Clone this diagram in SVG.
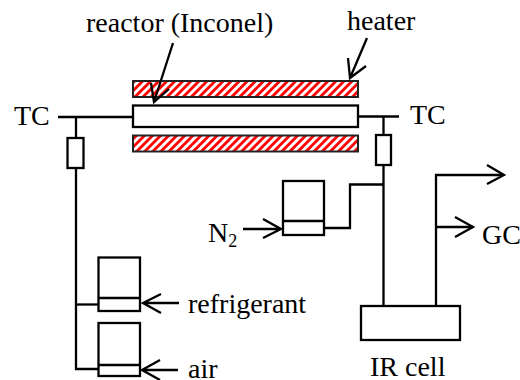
<svg xmlns="http://www.w3.org/2000/svg" width="520" height="380" viewBox="0 0 520 380">
<style>
.l{fill:none;stroke:#000;stroke-width:2.3}
.b{fill:#fff;stroke:#000;stroke-width:2.3}
.h{fill:url(#hatch);stroke:#222;stroke-width:2}
text{font-family:"Liberation Serif","Times New Roman",serif;font-size:28px;fill:#000}
</style>
<defs>
<pattern id="hatch" width="5.700" height="5.700" patternUnits="userSpaceOnUse" patternTransform="rotate(45)">
<rect width="5.700" height="5.700" fill="#f00"/>
<rect width="2.900" height="5.700" fill="#fff"/>
</pattern>
</defs>
<g id="heater-top"><rect class="h" x="133" y="81" width="225" height="16"/></g>
<g id="heater-bottom"><rect class="h" x="133" y="135.500" width="225" height="16"/></g>
<g id="reactor"><rect class="b" x="133" y="105.500" width="225" height="21.500"/></g>
<g id="valve-left"><rect class="b" x="67.500" y="138" width="16" height="30"/></g>
<g id="valve-right"><rect class="b" x="376" y="135" width="15" height="30"/></g>
<g id="mfc-n2"><rect class="b" x="283" y="181" width="41" height="54"/><path class="l" d="M283 221H324"/></g>
<g id="mfc-refrigerant"><rect class="b" x="98.500" y="257.500" width="41.500" height="53.500"/><path class="l" d="M98.500 298H140"/></g>
<g id="mfc-air"><rect class="b" x="98.500" y="323" width="41.500" height="53"/><path class="l" d="M98.500 365H140"/></g>
<g id="ir-cell"><rect class="b" x="361" y="306" width="99" height="34"/></g>
<g id="connectors">
<path class="l" d="M58 117H133"/>
<path class="l" d="M76 117V138M76 168V369H98"/>
<path class="l" d="M76 304.500H98"/>
<path class="l" d="M358 116.500H399"/>
<path class="l" d="M383.500 116.500V135M383.500 165V306"/>
<path class="l" d="M324 228H350V184.500H383.500"/>
<path class="l" d="M436 306V175H503"/>
<path class="l" d="M436 227H473"/>
<path class="l" d="M173 43L154 102M151 83L154 102L169 89"/>
<path class="l" d="M367 38L350 78M348 58L350 78L366 66"/>
<path class="l" d="M243 229H281M263 219L281 229L263 238"/>
<path class="l" d="M179 303H143M161 294L143 303L161 313"/>
<path class="l" d="M178 370H142M160 360L142 370L160 380"/>
<path class="l" d="M487 165L504 175L487 184"/>
<path class="l" d="M455 217L473 227L455 237"/>
</g>
<text x="86" y="32">reactor (Inconel)</text>
<text x="347" y="30">heater</text>
<text x="14" y="125">TC</text>
<text x="410" y="124">TC</text>
<text x="208" y="242">N<tspan font-size="18" dy="5">2</tspan></text>
<text x="188" y="313">refrigerant</text>
<text x="188" y="378">air</text>
<text x="370" y="376">IR cell</text>
<text x="482" y="244">GC</text>
</svg>
